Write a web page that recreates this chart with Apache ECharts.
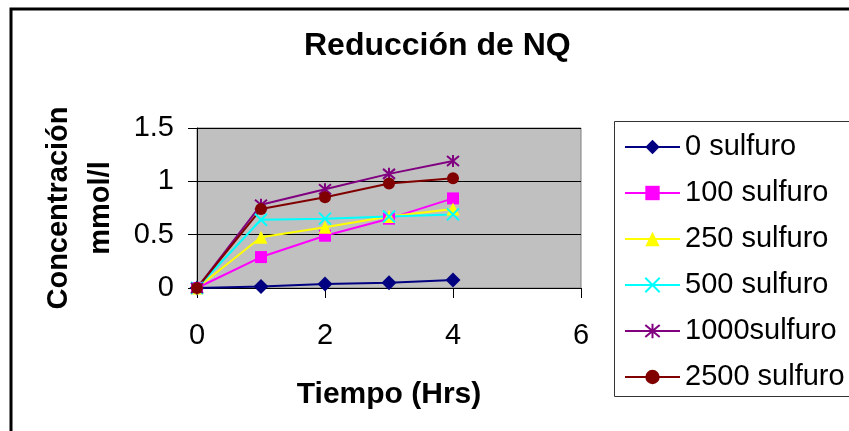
<!DOCTYPE html>
<html>
<head>
<meta charset="utf-8">
<script src="https://cdn.jsdelivr.net/npm/echarts@6/dist/echarts.min.js"></script>
<style>
  html, body { margin: 0; padding: 0; background: #fff; }
  #chart { width: 849px; height: 431px; }
</style>
</head>
<body>
<div id="chart"></div>
<script>
// Sampling times (hours)
const hours = [0, 1, 2, 3, 4];

// NQ concentration (mmol/l) for each sulfide dose
const s0    = [0, 0.013, 0.037, 0.05, 0.075];
const s100  = [0, 0.29, 0.49, 0.65, 0.84];
const s250  = [0, 0.475, 0.57, 0.67, 0.74];
const s500  = [0, 0.64, 0.65, 0.67, 0.69];
const s1000 = [0, 0.78, 0.925, 1.07, 1.19];
const s2500 = [0, 0.74, 0.85, 0.98, 1.03];

const seriesNames = ['0 sulfuro', '100 sulfuro', '250 sulfuro', '500 sulfuro', '1000sulfuro', '2500 sulfuro'];
const seriesValues = [s0, s100, s250, s500, s1000, s2500];

const FONT = '"Liberation Sans", Arial, sans-serif';

const styles = [
  { color: '#000080', symbol: 'diamond', size: 15 },
  { color: '#FF00FF', symbol: 'rect', size: 12 },
  { color: '#FFFF00', symbol: 'triangle', size: 13 },
  { color: '#00FFFF', symbol: 'path://M0,0L10,10M10,0L0,10', size: 12, stroke: true },
  { color: '#800080', symbol: 'path://M0,0L10,10M10,0L0,10M5,-1L5,11', size: 12, stroke: true },
  { color: '#800000', symbol: 'circle', size: 12 }
];

const series = seriesNames.map((name, i) => {
  const st = styles[i];
  return {
    name: name,
    type: 'line',
    data: hours.map((h, j) => [h, seriesValues[i][j]]),
    symbol: st.symbol,
    symbolSize: st.size,
    showAllSymbol: true,
    lineStyle: { color: st.color, width: 2 },
    itemStyle: st.stroke
      ? { color: st.color, borderColor: st.color, borderWidth: 2 }
      : { color: st.color, borderWidth: 0 },
    emphasis: { disabled: true },
    animation: false
  };
});

const chart = echarts.init(document.getElementById('chart'), null, { renderer: 'canvas' });
chart.setOption({
  backgroundColor: '#fff',
  animation: false,
  title: {
    text: 'Reducción de NQ',
    left: 304,
    top: 30,
    padding: 0,
    textStyle: { fontFamily: FONT, fontSize: 32, fontWeight: 'bold', color: '#000' }
  },
  grid: {
    left: 197, top: 128, right: 268, bottom: 143,
    show: true, backgroundColor: '#C0C0C0', borderColor: '#808080', borderWidth: 1
  },
  xAxis: {
    type: 'value', min: 0, max: 6, interval: 2,
    name: 'Tiempo (Hrs)', nameLocation: 'middle', nameGap: 92,
    nameTextStyle: { fontFamily: FONT, fontSize: 30, fontWeight: 'bold', color: '#000' },
    axisLine: { show: true, onZero: false, lineStyle: { color: '#000', width: 1 } },
    axisTick: { show: true, inside: false, length: 10, lineStyle: { color: '#000' } },
    axisLabel: { margin: 33, fontFamily: FONT, fontSize: 29, color: '#000' },
    splitLine: { show: false }
  },
  yAxis: {
    type: 'value', min: 0, max: 1.5, interval: 0.5,
    name: 'Concentración\nmmol/l', nameLocation: 'middle', nameGap: 75, nameRotate: 90,
    nameTextStyle: { fontFamily: FONT, fontSize: 29, fontWeight: 'bold', color: '#000', lineHeight: 42, align: 'center' },
    axisLine: { show: true, lineStyle: { color: '#000', width: 1 } },
    axisTick: { show: true, inside: false, length: 9, lineStyle: { color: '#000' } },
    axisLabel: { margin: 23, fontFamily: FONT, fontSize: 29, color: '#000' },
    splitLine: { show: true, lineStyle: { color: '#000', width: 1 } }
  },
  legend: {
    orient: 'vertical',
    left: 624, top: 132,
    padding: 0,
    itemWidth: 55, itemHeight: 18, itemGap: 16,
    selectedMode: false,
    textStyle: { fontFamily: FONT, fontSize: 29, color: '#000', lineHeight: 30, padding: [0, 0, 0, 0] },
    data: seriesNames
  },
  graphic: [
    { type: 'rect', shape: { x: 11, y: 9, width: 900, height: 500 }, style: { fill: null, stroke: '#000', lineWidth: 3 }, silent: true, z: 100 },
    { type: 'rect', shape: { x: 614.5, y: 121.5, width: 300, height: 275 }, style: { fill: null, stroke: '#333', lineWidth: 1 }, silent: true, z: 100 }
  ],
  series: series
});
</script>
</body>
</html>
